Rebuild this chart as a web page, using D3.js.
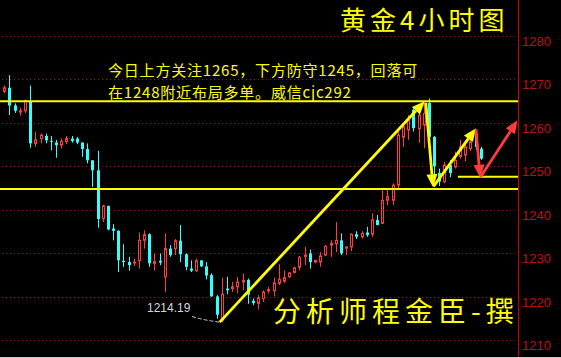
<!DOCTYPE html>
<html lang="zh">
<head>
<meta charset="UTF-8">
<title>黄金4小时图</title>
<script src="https://d3js.org/d3.v7.min.js"></script>
<style>
  html, body { margin: 0; padding: 0; background: #000; }
  svg { display: block; }
</style>
</head>
<body>
<div id="chart"></div>
<script>
  const width = 561;
  const height = 358;

  // candle data (4h bars, oldest first)
  const opens  = [1267.3,1268.1,1264.0,1262.5,1262.8,1264.9,1255.3,1256.4,1257.0,1255.9,
                  1255.5,1254.9,1255.7,1256.4,1256.4,1255.5,1254.0,1251.4,1249.1,1238.0,
                  1240.9,1235.7,1235.2,1228.3,1228.0,1227.8,1228.3,1233.0,1234.4,1227.7,
                  1228.3,1224.6,1231.1,1231.1,1232.9,1229.8,1226.5,1226.0,1228.4,1227.0,
                  1225.0,1220.1,1214.6,1221.9,1221.9,1222.3,1223.4,1223.9,1219.1,1218.5,
                  1219.6,1221.4,1221.4,1223.1,1223.6,1224.6,1225.6,1226.8,1229.3,1230.0,
                  1228.0,1228.0,1229.6,1231.9,1232.2,1233.0,1231.2,1231.5,1234.4,1233.8,
                  1234.8,1234.4,1237.7,1236.9,1242.2,1242.2,1245.7,1256.7,1258.4,1263.0,
                  1258.7,1259.5,1264.6,1256.8,1248.5,1246.5,1250.3,1249.9,1252.3,1252.6,
                  1254.1,1257.5,1254.1];
  const highs  = [1268.6,1271.0,1264.5,1263.5,1265.4,1268.6,1258.0,1257.6,1257.5,1257.0,
                  1256.1,1256.4,1257.0,1257.0,1256.8,1255.5,1255.3,1251.4,1253.6,1241.2,
                  1241.0,1236.7,1235.3,1232.1,1229.2,1228.8,1234.8,1235.3,1234.6,1230.0,
                  1230.0,1234.6,1231.9,1233.3,1236.5,1230.0,1228.4,1228.8,1228.4,1228.0,
                  1225.4,1220.4,1224.4,1224.6,1223.4,1224.6,1225.4,1224.2,1219.6,1220.4,
                  1221.5,1222.3,1224.4,1227.5,1226.1,1225.7,1226.9,1229.4,1231.5,1230.9,
                  1228.4,1230.3,1231.9,1233.0,1237.2,1234.6,1231.5,1234.6,1235.1,1235.1,
                  1236.1,1239.2,1238.8,1244.6,1244.6,1246.1,1258.7,1259.9,1261.8,1263.4,
                  1262.5,1264.6,1265.6,1257.0,1249.5,1251.1,1251.5,1253.4,1256.1,1256.0,
                  1257.0,1258.3,1254.5];
  const lows   = [1266.8,1261.8,1262.3,1261.7,1262.3,1254.3,1254.5,1255.3,1255.3,1253.7,
                  1252.0,1254.1,1255.1,1255.5,1255.1,1252.2,1250.7,1245.3,1235.9,1237.2,
                  1235.3,1233.0,1225.7,1226.9,1226.0,1227.1,1226.5,1231.1,1226.9,1226.0,
                  1227.3,1221.1,1229.2,1229.6,1228.0,1226.1,1225.7,1225.7,1226.9,1224.0,
                  1220.0,1215.0,1214.19,1220.6,1221.1,1220.8,1221.5,1218.4,1218.1,1217.1,
                  1218.8,1220.8,1220.1,1222.7,1223.2,1224.4,1225.4,1226.1,1227.3,1226.5,
                  1227.7,1226.9,1229.4,1229.2,1230.3,1229.6,1229.6,1230.5,1233.3,1233.4,
                  1233.8,1233.8,1236.5,1236.9,1241.1,1241.1,1244.9,1254.5,1256.1,1258.0,
                  1255.4,1254.2,1255.5,1247.0,1245.5,1246.1,1247.5,1249.5,1251.8,1251.2,
                  1253.5,1253.8,1251.5];
  const closes = [1268.1,1264.0,1262.8,1262.8,1265.0,1255.3,1256.1,1257.2,1256.0,1255.7,
                  1254.9,1255.8,1256.4,1255.8,1255.5,1254.0,1251.4,1249.1,1237.9,1240.9,
                  1235.5,1235.2,1228.4,1228.0,1227.3,1228.0,1233.0,1234.3,1227.7,1228.1,
                  1227.9,1231.1,1229.6,1232.9,1229.8,1226.9,1226.0,1228.3,1227.0,1224.9,
                  1220.1,1215.9,1220.6,1221.5,1222.3,1223.4,1223.8,1220.5,1218.6,1219.8,
                  1221.1,1221.7,1223.2,1224.0,1224.4,1225.5,1226.7,1229.1,1229.6,1228.0,
                  1228.4,1229.4,1231.6,1232.3,1233.0,1230.0,1231.5,1234.4,1233.8,1234.6,
                  1234.2,1237.7,1236.5,1242.2,1243.0,1245.7,1257.2,1259.1,1260.6,1258.8,
                  1261.8,1262.2,1256.8,1250.0,1246.5,1250.3,1248.5,1251.4,1254.5,1254.5,
                  1255.7,1254.5,1251.8];

  const priceTicks = [1210, 1220, 1230, 1240, 1250, 1260, 1270, 1280];
  const levels = [1265, 1244.8];           // support / resistance lines
  const shortLevel = [87.6, 1247.6];       // [start bar, price]
  const lowPoint = [41.6, 1214.19];
  const lowLabel = "1214.19";

  // drawn arrows: [bar1, price1, bar2, price2, colour]
  const arrows = [
    [41.6, 1214.19, 81.2, 1265.0, "#ffff00"],
    [81.4, 1264.6, 82.8, 1245.2, "#ffff00"],
    [82.9, 1245.4, 91.1, 1258.8, "#ffff00"],
    [91.1, 1258.5, 91.9, 1247.4, "#ff3c3c"],
    [92.0, 1247.6, 99.1, 1260.6, "#ff3c3c"]
  ];

  const note1 = "今日上方关注1265，下方防守1245，回落可";
  const note2 = "在1248附近布局多单。威信cjc292";
  const title = "黄金4小时图";
  const author = "分析师程金臣-撰";

  const axisX = 518;
  const up = "#ff3c3c", down = "#33ffff", gridRed = "#c80000";

  const x = d3.scaleLinear().domain([0, opens.length - 1]).range([4.3, 480.7]);
  const y = d3.scaleLinear().domain([1210, 1280]).range([340.3, 36]);

  const svg = d3.select("#chart").append("svg")
    .attr("width", width).attr("height", height)
    .style("background", "#000");

  // dotted grid
  svg.append("g").selectAll("line")
    .data(priceTicks).enter().append("line")
    .attr("x1", 2).attr("x2", axisX)
    .attr("y1", d => Math.round(y(d)) + 0.5).attr("y2", d => Math.round(y(d)) + 0.5)
    .attr("stroke", gridRed).attr("stroke-dasharray", "1,3");

  // candles
  const bars = d3.range(opens.length).map(i => ({
    i, o: opens[i], h: highs[i], l: lows[i], c: closes[i]
  }));
  const cg = svg.append("g").selectAll("g").data(bars).enter().append("g");
  cg.append("line")
    .attr("x1", d => Math.round(x(d.i)) + 0.5).attr("x2", d => Math.round(x(d.i)) + 0.5)
    .attr("y1", d => y(d.h)).attr("y2", d => y(d.l))
    .attr("stroke", d => d.c >= d.o ? up : down);
  cg.append("rect")
    .attr("x", d => d.c >= d.o ? Math.round(x(d.i)) - 0.5 : Math.round(x(d.i)) - 1)
    .attr("width", d => d.c >= d.o ? 2 : 3)
    .attr("y", d => y(Math.max(d.o, d.c)))
    .attr("height", d => Math.max(1, y(Math.min(d.o, d.c)) - y(Math.max(d.o, d.c))))
    .attr("fill", d => d.c >= d.o ? "#000" : down)
    .attr("stroke", d => d.c >= d.o ? up : "none");

  // horizontal levels
  svg.append("g").selectAll("line").data(levels).enter().append("line")
    .attr("x1", 0).attr("x2", axisX)
    .attr("y1", d => y(d)).attr("y2", d => y(d))
    .attr("stroke", "#ffff00").attr("stroke-width", 2);
  svg.append("line")
    .attr("x1", x(shortLevel[0])).attr("x2", axisX)
    .attr("y1", y(shortLevel[1])).attr("y2", y(shortLevel[1]))
    .attr("stroke", "#ffff00").attr("stroke-width", 2);

  // arrows
  function arrow(g, x1, y1, x2, y2, col) {
    const a = Math.atan2(y2 - y1, x2 - x1);
    const L = 13, W = 5.5;
    const bx = x2 - L * Math.cos(a), by = y2 - L * Math.sin(a);
    g.append("line").attr("x1", x1).attr("y1", y1).attr("x2", bx).attr("y2", by)
      .attr("stroke", col).attr("stroke-width", 2.8);
    g.append("path")
      .attr("d", `M${x2},${y2}L${bx + W * Math.sin(a)},${by - W * Math.cos(a)}L${bx - W * Math.sin(a)},${by + W * Math.cos(a)}Z`)
      .attr("fill", col);
  }
  const ag = svg.append("g");
  arrows.forEach(a => arrow(ag, x(a[0]), y(a[1]), x(a[2]), y(a[3]), a[4]));

  // low marker
  svg.append("path")
    .attr("d", `M192,316.5Q205,320.5 ${x(lowPoint[0])},${y(lowPoint[1])}`)
    .attr("fill", "none").attr("stroke", "#c8c8c8").attr("stroke-dasharray", "4,2");
  svg.append("text").attr("x", 147).attr("y", 312)
    .attr("font-family", "Liberation Sans, Arial, sans-serif").attr("font-size", 12)
    .attr("fill", "#d4d4dc").text(lowLabel);

  // texts
  const cjk = "'Noto Sans CJK SC', sans-serif";
  svg.append("text").attr("x", 108).attr("y", 76)
    .attr("font-family", cjk).attr("font-size", 15).attr("letter-spacing", 0.8)
    .attr("fill", "#ffff00").text(note1);
  svg.append("text").attr("x", 108).attr("y", 98)
    .attr("font-family", cjk).attr("font-size", 15).attr("letter-spacing", 0.8)
    .attr("fill", "#ffff00").text(note2);
  svg.append("text").attr("x", 340).attr("y", 30)
    .attr("font-family", cjk).attr("font-size", 26).attr("letter-spacing", 4)
    .attr("fill", "#ffff00").text(title);
  svg.append("text").attr("x", 273).attr("y", 322)
    .attr("font-family", cjk).attr("font-size", 28).attr("letter-spacing", 5)
    .attr("fill", "#ffff00").text(author);

  // right price axis
  svg.append("line").attr("x1", axisX + 0.5).attr("x2", axisX + 0.5)
    .attr("y1", 0).attr("y2", height).attr("stroke", "#d00000");
  svg.append("g").selectAll("text").data(priceTicks).enter().append("text")
    .attr("x", 522).attr("y", d => y(d) + 10)
    .attr("font-family", "Liberation Sans, Arial, sans-serif").attr("font-size", 13)
    .attr("fill", "#c01010").text(d => d);

  svg.append("line").attr("x1", 0).attr("x2", width)
    .attr("y1", height - 0.5).attr("y2", height - 0.5).attr("stroke", "#c8c8c8");
</script>
</body>
</html>
